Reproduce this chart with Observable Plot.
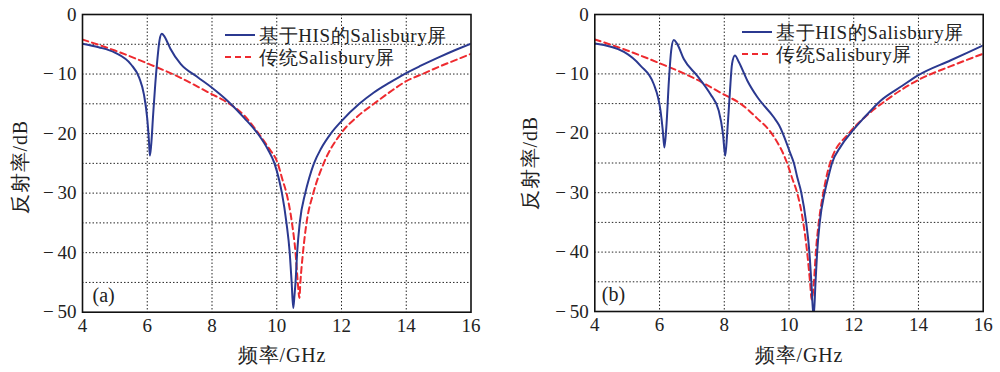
<!DOCTYPE html>
<html><head><meta charset="utf-8">
<script src="https://cdn.jsdelivr.net/npm/d3@7"></script>
<script src="https://cdn.jsdelivr.net/npm/@observablehq/plot@0.6"></script>
<style>
body{margin:0;background:#fff;}
#wrap{display:flex;width:1000px;height:372px;overflow:hidden;}
#wrap svg{display:block;flex:none;}
#wrap svg, #wrap svg text{font-family:"Liberation Serif","Times New Roman","Tinos","DejaVu Serif","Noto Serif",FreeSerif,serif !important;}
</style></head><body><div id="wrap"></div>
<script>
// ---- Panel (a) ----
const freqA_his = [4, 4.5, 5, 5.5, 5.75, 5.9, 6.0, 6.05, 6.08, 6.12, 6.18, 6.25, 6.31, 6.38, 6.45, 6.52, 6.6, 6.72, 7.03, 7.55, 8, 8.5, 9, 9.44, 9.72, 9.93, 10.07, 10.16, 10.3, 10.4, 10.46, 10.51, 10.55, 10.58, 10.63, 10.71, 10.88, 11.0, 11.15, 11.37, 11.67, 12.0, 12.55, 13, 13.5, 13.94, 14.45, 15, 15.5, 16];
const dbA_his   = [-4.9, -5.5, -6.4, -8.4, -10.6, -13.5, -17.5, -21, -23.7, -22, -17, -11.5, -7.7, -4.3, -3.25, -3.6, -4.4, -5.8, -8.3, -10.5, -12.3, -14.6, -17.4, -20.2, -22.6, -25, -27.7, -30, -35, -40, -45, -49.3, -47, -45, -40, -35, -30, -27.5, -25, -22.5, -20, -17.9, -15, -13.1, -11.4, -10, -8.6, -7.2, -6.0, -4.9];
const freqA_trad = [4, 5, 6, 7, 8, 8.36, 9, 9.44, 9.75, 10.03, 10.18, 10.3, 10.47, 10.58, 10.65, 10.7, 10.73, 10.81, 10.92, 11.13, 11.45, 11.98, 12.5, 13.0, 13.5, 14, 14.5, 15, 15.5, 16];
const dbA_trad   = [-4.2, -6.05, -8.2, -10.55, -13.4, -14.4, -17.0, -20, -22.4, -25, -27.8, -30, -35, -40, -45, -47.6, -45, -40, -35, -30, -25, -20, -17.1, -15, -13.0, -11.2, -10.0, -8.8, -7.7, -6.6];

// ---- Panel (b) ----
const freqB_his = [4, 4.9, 5.41, 5.82, 6.03, 6.1, 6.15, 6.21, 6.29, 6.36, 6.44, 6.54, 6.75, 7.16, 7.57, 7.83, 7.96, 8.03, 8.09, 8.17, 8.24, 8.33, 8.45, 8.71, 9.02, 9.53, 9.69, 10.05, 10.15, 10.26, 10.38, 10.53, 10.63, 10.69, 10.76, 10.82, 10.87, 10.95, 11.1, 11.2, 11.33, 11.6, 11.9, 12.3, 12.83, 13.5, 14, 15, 16];
const dbB_his   = [-4.9, -6.3, -8.6, -11.7, -16.2, -19.5, -22.4, -19, -11.1, -6.1, -4.3, -4.9, -7.5, -10.3, -13.4, -16.2, -20.1, -23.8, -20, -13.4, -8.3, -6.9, -8.0, -11.1, -13.9, -17.3, -18.6, -23.5, -25, -27.5, -30, -35, -40, -45, -51, -45, -40, -35, -30, -27.7, -25, -22.2, -20, -17.5, -14.5, -12.0, -10.2, -7.7, -5.2];
const freqB_trad = [4, 5, 6, 7, 8, 8.5, 9, 9.5, 9.94, 10.1, 10.25, 10.44, 10.56, 10.65, 10.7, 10.77, 10.83, 10.92, 11.06, 11.15, 11.27, 11.85, 12.3, 13.01, 14, 15, 16];
const dbB_trad   = [-4.2, -6.05, -8.2, -10.55, -13.5, -15, -17.4, -20.3, -25, -27.6, -30, -35, -40, -45, -48, -45, -40, -35, -30, -27.5, -25, -20, -17.5, -14.4, -11.0, -8.7, -6.6];

// ---- Axes / labels ----
const xTicks = [4, 6, 8, 10, 12, 14, 16];
const yTicks = [0, -10, -20, -30, -40, -50];
const xGrid = [6, 8, 10, 12, 14];
const yGrid = [-5, -10, -15, -20, -25, -30, -35, -40, -45];
const xLabel = "频率/GHz";
const yLabel = "反射率/dB";
const seriesNames = ["基于HIS的Salisbury屏", "传统Salisbury屏"];
const panelNames = ["(a)", "(b)"];

const FONT = '"Liberation Serif","Times New Roman","Tinos","DejaVu Serif","Noto Serif",FreeSerif,serif';
const BLUE = "#2b3990";
const RED = "#ee2a2f";

const toRows = (fs, ds) => fs.map((f, i) => ({f, db: ds[i]}));
const fmtY = d => d === 0 ? "0" : "\u2212\u2009" + Math.abs(d);

function panel(opts) {
  const {his, trad, name, mL, mR, mB, legend, lab} = opts;
  const svg = Plot.plot({
    width: 500, height: 372,
    marginTop: 14, marginBottom: mB, marginLeft: mL, marginRight: mR,
    style: {fontFamily: FONT, fontSize: "19px", color: "#222", background: "#fff", overflow: "visible"},
    x: {domain: [4, 16]},
    y: {domain: [-50, 0]},
    marks: [
      Plot.gridX(xGrid, {stroke: "#000", strokeOpacity: 0.85, strokeDasharray: "1.5,2", strokeWidth: 1}),
      Plot.gridY(yGrid, {stroke: "#000", strokeOpacity: 0.85, strokeDasharray: "1.5,2", strokeWidth: 1}),
      Plot.axisX(xTicks, {tickSize: 0, tickPadding: 6, label: null, fontSize: 19}),
      Plot.axisY(yTicks, {tickSize: 0, tickPadding: 6, label: null, tickFormat: fmtY, fontSize: 19}),
      Plot.line(trad, {x: "f", y: "db", curve: "monotone-x", stroke: RED, strokeWidth: 2, strokeDasharray: "6,4", clip: true}),
      Plot.line(his, {x: "f", y: "db", curve: "monotone-x", stroke: BLUE, strokeWidth: 2, clip: true}),
      Plot.frame({stroke: "#111", strokeWidth: 1.6}),
      Plot.text([name], {frameAnchor: "bottom-left", dx: opts.nDx, dy: -17, textAnchor: "start", lineAnchor: "middle", fontSize: 20, fill: "#222"})
    ]
  });
  const s = d3.select(svg);
  // axis titles
  s.append("text").attr("x", lab.xx).attr("y", lab.xy).attr("text-anchor", "middle")
    .attr("dy", "0.35em").attr("font-size", 20).attr("fill", "#222").attr("letter-spacing", "0.8px").text(xLabel);
  s.append("text").attr("transform", `translate(${lab.yx},${lab.yy}) rotate(-90)`).attr("text-anchor", "middle")
    .attr("dy", "0.35em").attr("font-size", 20).attr("fill", "#222").attr("letter-spacing", "0.8px").text(yLabel);
  // legend (drawn in pixel space, no box)
  const g = s.append("g").attr("font-size", 19).attr("fill", "#222").attr("text-anchor", "start");
  const rows = [{c: BLUE, dash: "none"}, {c: RED, dash: "6,4"}];
  rows.forEach((r, i) => {
    const y = legend.y0 + i * 22;
    g.append("line").attr("x1", legend.x0).attr("x2", legend.x0 + 30)
      .attr("y1", y).attr("y2", y).attr("stroke", r.c).attr("stroke-width", 2)
      .attr("stroke-dasharray", r.dash);
    g.append("text").attr("x", legend.x0 + 34).attr("y", y).attr("dy", "0.35em")
      .attr("text-anchor", "start").attr("letter-spacing", "0.6px").text(seriesNames[i]);
  });
  return svg;
}

const wrap = document.getElementById("wrap");
wrap.appendChild(panel({
  his: toRows(freqA_his, dbA_his), trad: toRows(freqA_trad, dbA_trad), name: panelNames[0],
  mL: 82, mR: 29.5, mB: 60.3, nDx: 10, legend: {x0: 225, y0: 35},
  lab: {xx: 282, xy: 355, yx: 20, yy: 167}
}));
wrap.appendChild(panel({
  his: toRows(freqB_his, dbB_his), trad: toRows(freqB_trad, dbB_trad), name: panelNames[1],
  mL: 94.3, mR: 17.3, mB: 61, nDx: 7, legend: {x0: 242, y0: 32},
  lab: {xx: 299, xy: 355, yx: 30, yy: 163}
}));
</script>
</body></html>
